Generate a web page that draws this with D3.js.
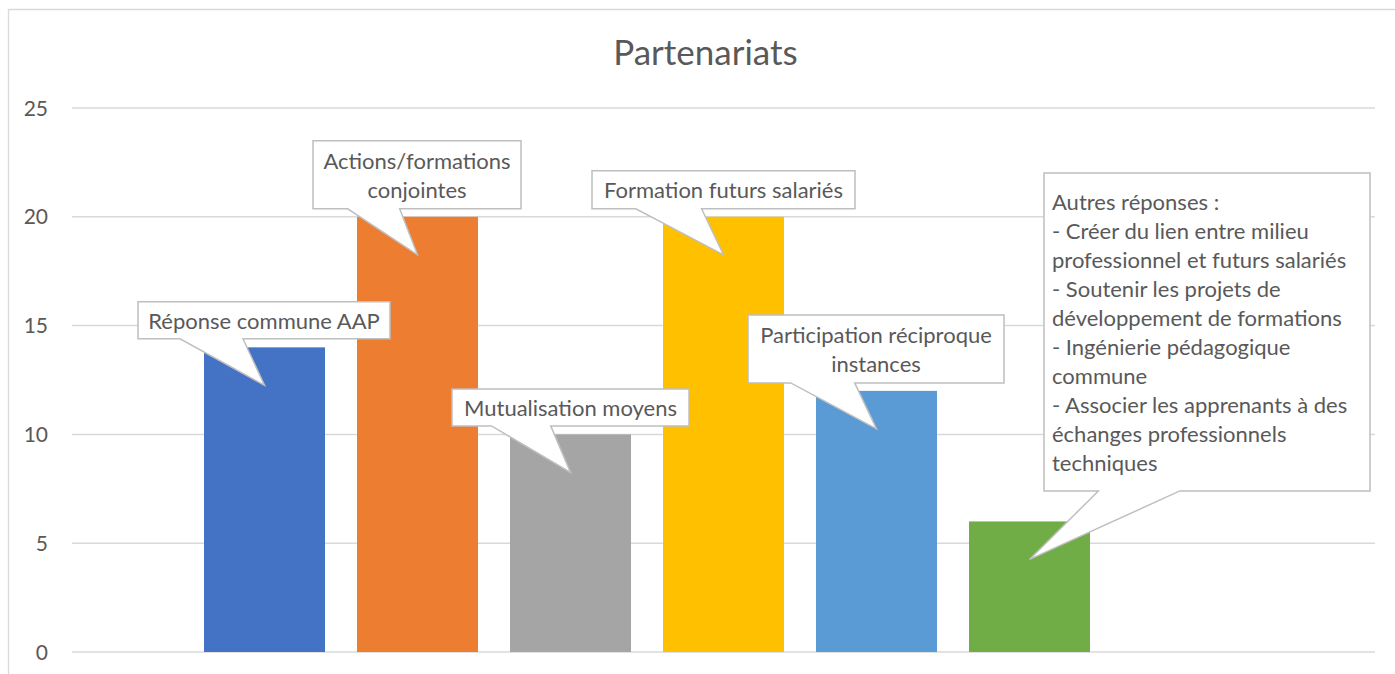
<html>
  <head>
    <title>Partenariats</title>
    <meta charset="utf-8">
    <script src="https://d3js.org/d3.v7.min.js"></script>
    <style>
      body { margin: 0; background: #fff; }
      text { font-family: Lato, "Open Sans", sans-serif; fill: #595959; }
    </style>
  </head>
<body>
  <div id="chart"></div>
  <script>

    // data
    var categories = ["Réponse commune AAP", "Actions/formations conjointes", "Mutualisation moyens",
                      "Formation futurs salariés", "Participation réciproque instances", "Autres réponses"];
    var values = [14, 20, 10, 20, 12, 6];
    var colors = ["#4472C4", "#ED7D31", "#A5A5A5", "#FFC000", "#5B9BD5", "#70AD47"];
    var yTicks = [0, 5, 10, 15, 20, 25];

    // callout texts, one array of lines per bar
    var calloutLines = [
      ["Réponse commune AAP"],
      ["Actions/formations", "conjointes"],
      ["Mutualisation moyens"],
      ["Formation futurs salariés"],
      ["Participation réciproque", "instances"],
      ["Autres réponses :", "- Créer du lien entre milieu", "professionnel et futurs salariés",
       "- Soutenir les projets de", "développement de formations", "- Ingénierie pédagogique",
       "commune", "- Associer les apprenants à des", "échanges professionnels", "techniques"]
    ];

    // callout box placement relative to the top-centre of each bar : [dx, dy, width, height]
    var calloutBox = [
      [-126.5, -45.5, 252, 37],
      [-104.5, -76, 208, 68],
      [-118.5, -45.5, 237, 37],
      [-131.5, -46, 263, 38],
      [-128.5, -76, 256, 68],
      [14.5, -348.5, 326, 318]
    ];

    var width = 1395, height = 674;
    var plotLeft = 72, plotRight = 1375, plotTop = 108, plotBottom = 652;
    var lineH = 29;

    var svg = d3.select("#chart").append("svg")
      .attr("width", width)
      .attr("height", height);

    // chart frame (cut off on the right and bottom in the original)
    svg.append("path")
      .attr("d", "M8.5," + height + "V9.5H" + width)
      .attr("fill", "none")
      .attr("stroke", "#D9D9D9")
      .attr("stroke-width", 1.3);

    var y = d3.scaleLinear().domain([0, 25]).range([plotBottom, plotTop]);

    // Excel left room for a 7th (empty) series in the cluster
    var x = d3.scaleBand()
      .domain(d3.range(7))
      .range([188, 1259])
      .paddingInner(32 / 153)
      .paddingOuter(16 / 153);

    // gridlines
    svg.selectAll(".grid")
      .data(yTicks)
      .enter()
      .append("line")
        .attr("x1", plotLeft)
        .attr("x2", plotRight)
        .attr("y1", function(d){ return y(d); })
        .attr("y2", function(d){ return y(d); })
        .attr("stroke", "#D9D9D9")
        .attr("stroke-width", 1.5);

    // y tick labels
    svg.selectAll(".ytick")
      .data(yTicks)
      .enter()
      .append("text")
        .attr("x", 48)
        .attr("y", function(d){ return y(d) + 7.5; })
        .attr("text-anchor", "end")
        .style("font-size", "21px")
        .text(function(d){ return d; });

    // title
    svg.append("text")
      .attr("x", 705.5)
      .attr("y", 65)
      .attr("text-anchor", "middle")
      .style("font-size", "35px")
      .text("Partenariats");

    // bars
    svg.selectAll(".bar")
      .data(values)
      .enter()
      .append("rect")
        .attr("x", function(d, i){ return x(i); })
        .attr("y", function(d){ return y(d); })
        .attr("width", x.bandwidth())
        .attr("height", function(d){ return y(0) - y(d); })
        .attr("fill", function(d, i){ return colors[i]; });

    // callouts
    var callouts = svg.selectAll(".callout")
      .data(values)
      .enter()
      .append("g");

    callouts.append("path")
      .attr("d", function(d, i){
        var cx = x(i) + x.bandwidth() / 2, cy = y(d);
        var b = calloutBox[i];
        var l = cx + b[0], t = cy + b[1], w = b[2], h = b[3];
        var tipX = cx, tipY = cy + 38;
        return "M" + l + "," + t + "H" + (l + w) + "V" + (t + h)
          + "H" + (l + w * 5 / 12) + "L" + tipX + "," + tipY
          + "L" + (l + w / 6) + "," + (t + h) + "H" + l + "Z";
      })
      .attr("fill", "#fff")
      .attr("stroke", "#BFBFBF")
      .attr("stroke-width", 1.5)
      .attr("stroke-linejoin", "miter");

    callouts.each(function(d, i){
      var cx = x(i) + x.bandwidth() / 2, cy = y(d);
      var b = calloutBox[i];
      var l = cx + b[0], t = cy + b[1], w = b[2], h = b[3];
      var lines = calloutLines[i];
      var multi = lines.length > 2;
      var first = t + (h - lines.length * lineH) / 2 + 23;
      d3.select(this).selectAll("text")
        .data(lines)
        .enter()
        .append("text")
          .attr("x", multi ? l + 8 : l + w / 2)
          .attr("y", function(s, k){ return first + k * lineH; })
          .attr("text-anchor", multi ? "start" : "middle")
          .style("font-size", "22px")
          .text(function(s){ return s; });
    });

  </script>
</body>
</html>
